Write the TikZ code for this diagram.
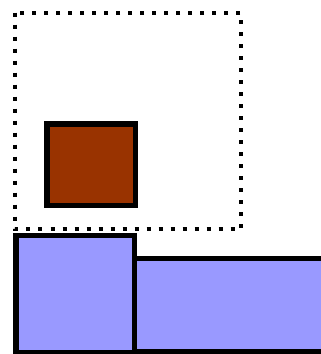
\documentclass[tikz,border=0pt]{standalone}
\definecolor{periwinkle}{HTML}{9999FF}
\definecolor{rust}{HTML}{993300}

\begin{document}
\begin{tikzpicture}[x=1pt,y=-1pt]
\useasboundingbox (0,0) rectangle (321,354);
\draw[line width=4pt,dash pattern=on 4pt off 8pt] (15,12.5) rectangle (241,229);
\draw[line width=5.5pt,fill=rust] (47,124) rectangle (135.5,205.5);
\draw[line width=5.5pt,fill=periwinkle] (134.5,258.5) rectangle (340,351.5);
\draw[line width=5.5pt,fill=periwinkle] (16,235.5) rectangle (134.5,352.5);
\end{tikzpicture}
\end{document}
